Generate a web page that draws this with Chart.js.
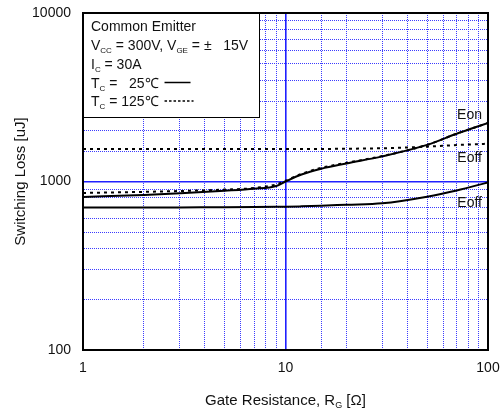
<!DOCTYPE html>
<html>
<head>
<meta charset="utf-8">
<script src="https://cdn.jsdelivr.net/npm/chart.js@4.4.1/dist/chart.umd.min.js"></script>
<style>
html, body { margin: 0; padding: 0; background: #fff; }
#wrap { width: 503px; height: 415px; position: relative; }
</style>
</head>
<body>
<div id="wrap"><canvas id="chart"></canvas></div>
<script>
// gate resistance (ohm) and switching losses (uJ)
const rg      = [1,    2,    3,    5,    7,    9,    10,   12,   15,   20,   30,   50,   70,   100];
const eon25   = [809,  832,  852,  881,  905,  940,  1000, 1100, 1190, 1280, 1410, 1650, 1920, 2225];
const eon125  = [855,  868,  878,  895,  915,  960,  1010, 1110, 1205, 1290, 1415, 1650, 1920, 2225];
const eoff25  = [700,  700,  702,  703,  705,  707,  708,  712,  718,  728,  742,  813,  885,  988];
const eoff125 = [1560, 1560, 1560, 1560, 1560, 1560, 1560, 1560, 1560, 1565, 1575, 1610, 1645, 1676];

const xTickLabels = [1, 10, 100];
const yTickLabels = [100, 1000, 10000];

// curve names at the right edge, placed at these loss values
const curveNames = ['Eon', 'Eoff', 'Eoff'];
const curveNameAt = [2480, 1380, 745];

const FONT = '"Liberation Sans", Arial, sans-serif';

const pts = ys => rg.map((x, i) => ({ x: x, y: ys[i] }));
const isMajor = v => Math.abs(Math.log10(v) - Math.round(Math.log10(v))) < 1e-6;
const pickLabel = (list, v) => { const l = list.find(t => Math.abs(t - v) < 1e-6); return l === undefined ? '' : String(l); };

// tick marks are kept invisible, they only space the labels from the frame
function gridOpts(gap) {
    return {
        color: c => (c.tick && isMajor(c.tick.value)) ? '#1f1fff' : '#3c3cff',
        lineWidth: c => (c.tick && isMajor(c.tick.value)) ? 1.6 : 1,
        drawTicks: true,
        tickLength: gap,
        tickColor: 'rgba(0,0,0,0)'
    };
}
function borderOpts() {
    return {
        color: '#000',
        width: 2,
        dash: c => (c.tick && !isMajor(c.tick.value)) ? [1, 1] : []
    };
}

// text with subscripts, parts = [[text, isSub], ...]
function drawRich(ctx, parts, x, y, size, subSize) {
    ctx.textBaseline = 'alphabetic';
    ctx.textAlign = 'left';
    parts.forEach(p => {
        const sub = p[1];
        ctx.font = (sub ? subSize : size) + 'px ' + FONT;
        ctx.fillText(p[0], x, sub ? y + 3 : y);
        x += ctx.measureText(p[0]).width;
    });
    return x;
}
function richWidth(ctx, parts, size, subSize) {
    let w = 0;
    parts.forEach(p => {
        ctx.font = (p[1] ? subSize : size) + 'px ' + FONT;
        w += ctx.measureText(p[0]).width;
    });
    return w;
}

const overlay = {
    id: 'overlay',
    afterDraw(chart) {
        const ctx = chart.ctx;
        const area = chart.chartArea;
        const xs = chart.scales.x, ys = chart.scales.y;
        ctx.save();

        // top and right frame
        ctx.strokeStyle = '#000';
        ctx.lineWidth = 2;
        ctx.beginPath();
        ctx.moveTo(area.left - 1, area.top);
        ctx.lineTo(area.right, area.top);
        ctx.lineTo(area.right, area.bottom + 1);
        ctx.stroke();

        // curve names
        ctx.fillStyle = '#111';
        ctx.font = '14px ' + FONT;
        ctx.textAlign = 'right';
        ctx.textBaseline = 'middle';
        curveNames.forEach((n, i) => {
            ctx.fillText(n, xs.getPixelForValue(100) - 6, ys.getPixelForValue(curveNameAt[i]));
        });

        // condition box
        const bx = area.left, by = area.top, bw = 176, bh = 104;
        ctx.fillStyle = '#fff';
        ctx.fillRect(bx, by, bw, bh);
        ctx.strokeStyle = '#000';
        ctx.lineWidth = 1;
        ctx.strokeRect(bx + 0.5, by + 0.5, bw, bh);
        ctx.fillStyle = '#111';
        const tx = bx + 8;
        drawRich(ctx, [['Common Emitter']], tx, by + 18, 14, 8);
        drawRich(ctx, [['V'], ['CC', 1], [' = 300V, V'], ['GE', 1], [' = \u00b1   15V']], tx, by + 36.5, 14, 8);
        drawRich(ctx, [['I'], ['C', 1], [' = 30A']], tx, by + 55.5, 14, 8);
        let e = drawRich(ctx, [['T'], ['C', 1], [' =   25\u2103 ']], tx, by + 74.5, 14, 8);
        ctx.strokeStyle = '#000';
        ctx.lineWidth = 1.5;
        ctx.beginPath();
        ctx.moveTo(e + 2, by + 69.5);
        ctx.lineTo(e + 28, by + 69.5);
        ctx.stroke();
        e = drawRich(ctx, [['T'], ['C', 1], [' = 125\u2103 ']], tx, by + 93, 14, 8);
        ctx.setLineDash([2.5, 2]);
        ctx.beginPath();
        ctx.moveTo(e + 2, by + 88);
        ctx.lineTo(e + 31, by + 88);
        ctx.stroke();
        ctx.setLineDash([]);

        // x axis title with subscript
        const title = [['Gate Resistance, R'], ['G', 1], [' [\u03a9]']];
        const w = richWidth(ctx, title, 15, 9);
        drawRich(ctx, title, (area.left + area.right) / 2 - w / 2, chart.height - 10, 15, 9);
        ctx.restore();
    }
};

const ctx = document.getElementById('chart').getContext('2d');

new Chart(ctx, {
    type: 'line',
    data: {
        datasets: [
            { label: 'Eon 25', data: pts(eon25), borderColor: '#000', borderWidth: 2, pointRadius: 0, fill: false, cubicInterpolationMode: 'monotone' },
            { label: 'Eon 125', data: pts(eon125), borderColor: '#000', borderWidth: 2, borderDash: [3, 4], pointRadius: 0, fill: false, cubicInterpolationMode: 'monotone' },
            { label: 'Eoff 25', data: pts(eoff25), borderColor: '#000', borderWidth: 2, pointRadius: 0, fill: false, cubicInterpolationMode: 'monotone' },
            { label: 'Eoff 125', data: pts(eoff125), borderColor: '#000', borderWidth: 2, borderDash: [3, 4], pointRadius: 0, fill: false, cubicInterpolationMode: 'monotone' }
        ]
    },
    options: {
        responsive: true,
        maintainAspectRatio: false,
        animation: false,
        layout: { padding: { top: 13, right: 15, left: 0, bottom: 0 } },
        plugins: {
            legend: { display: false },
            tooltip: { enabled: false }
        },
        scales: {
            x: {
                type: 'logarithmic',
                position: 'bottom',
                min: 1,
                max: 100,
                afterFit: s => { s.height = 65; },
                ticks: {
                    autoSkip: false,
                    maxRotation: 0,
                    padding: 0,
                    color: '#111',
                    font: { family: FONT, size: 14 },
                    callback: v => pickLabel(xTickLabels, v)
                },
                grid: gridOpts(10),
                border: borderOpts()
            },
            y: {
                type: 'logarithmic',
                position: 'left',
                min: 100,
                max: 10000,
                afterFit: s => { s.width = 83; },
                ticks: {
                    autoSkip: false,
                    padding: 0,
                    color: '#111',
                    font: { family: FONT, size: 14 },
                    callback: v => pickLabel(yTickLabels, v)
                },
                title: {
                    display: true,
                    text: 'Switching Loss [uJ]',
                    color: '#111',
                    font: { family: FONT, size: 15 },
                    padding: { top: 12, bottom: 0 }
                },
                grid: gridOpts(12),
                border: borderOpts()
            }
        }
    },
    plugins: [overlay]
});
</script>
</body>
</html>
